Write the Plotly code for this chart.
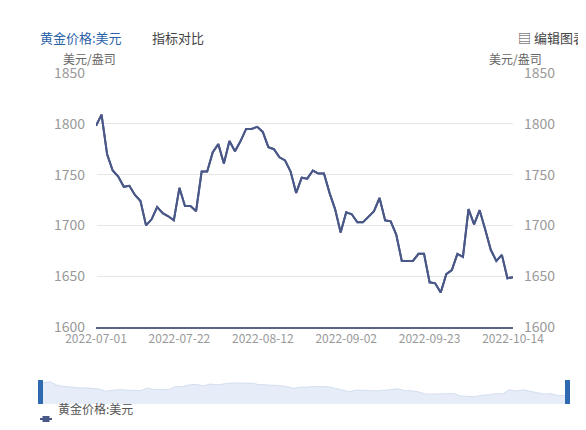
import datetime as dt

import plotly.graph_objects as go

# gold price, USD per ounce, business days from 2022-07-01
prices = [1798, 1809, 1770, 1754, 1748, 1738, 1739, 1730, 1724, 1700,
          1706, 1718, 1712, 1709, 1705, 1737, 1719, 1719, 1714, 1753,
          1753, 1772, 1780, 1761, 1783, 1773, 1783, 1795, 1795, 1797,
          1792, 1777, 1775, 1767, 1764, 1753, 1732, 1747, 1746, 1754,
          1751, 1751, 1732, 1716, 1693, 1713, 1711, 1703, 1703, 1709,
          1714, 1727, 1705, 1704, 1691, 1665, 1665, 1665, 1672, 1672,
          1644, 1643, 1634, 1652, 1656, 1672, 1669, 1716, 1701, 1715,
          1696, 1676, 1665, 1671, 1648, 1649]

dates = []
d = dt.date(2022, 7, 1)
while len(dates) < len(prices):
    if d.weekday() < 5:
        dates.append(d.isoformat())
    d += dt.timedelta(days=1)

tick_idx = [0, 15, 30, 45, 60, 75]
tick_text = [dates[i] for i in tick_idx]
y_ticks = [1600, 1650, 1700, 1750, 1800, 1850]

line_col = '#4a5888'
grey = '#999999'
font = 'Noto Sans CJK SC'

fig = go.Figure()
fig.add_trace(go.Scatter(x=list(range(len(prices))), y=prices, mode='lines',
                         line=dict(color=line_col, width=2),
                         name='黄金价格:美元', showlegend=False))
# right axis twin
fig.add_trace(go.Scatter(x=list(range(len(prices))), y=prices, mode='lines',
                         line=dict(color=line_col, width=2), yaxis='y3',
                         showlegend=False, hoverinfo='skip'))
# slider preview
fig.add_trace(go.Scatter(x=list(range(len(prices))), y=prices, mode='lines',
                         xaxis='x2', yaxis='y2', fill='tozeroy',
                         line=dict(color='#d3def0', width=1),
                         fillcolor='#e6edf8', showlegend=False))

fig.update_layout(
    width=586, height=430, margin=dict(l=0, r=0, t=0, b=0, autoexpand=False),
    plot_bgcolor='white', paper_bgcolor='white',
    font=dict(family=font, size=13, color=grey),
    xaxis=dict(domain=[88 / 586, 505 / 586], range=[0, 75],
               tickvals=tick_idx, ticktext=tick_text, showgrid=False,
               showline=True, linecolor='#5a6485', linewidth=2,
               ticks='', automargin=False,
               tickfont=dict(size=12, color=grey)),
    yaxis=dict(domain=[(430 - 319) / 430, (430 - 65) / 430],
               range=[1600, 1850], tickvals=y_ticks, gridcolor='#e6e6e6',
               zeroline=False, ticklabelstandoff=10, automargin=False,
               tickfont=dict(size=14, color=grey)),
    yaxis3=dict(overlaying='y', side='right', range=[1600, 1850],
                tickvals=y_ticks, showgrid=False, zeroline=False,
                ticklabelstandoff=10, automargin=False,
                tickfont=dict(size=14, color=grey)),
    xaxis2=dict(domain=[35 / 586, 557 / 586], range=[0, 75],
                anchor='y2', visible=False),
    yaxis2=dict(domain=[(430 - 396) / 430, (430 - 372) / 430],
                range=[1550, 1830], anchor='x2', visible=False),
    shapes=[
        dict(type='rect', xref='paper', yref='paper',
             x0=30 / 586, x1=35 / 586, y0=34 / 430, y1=58 / 430,
             fillcolor='#2f6ab0', line=dict(width=0)),
        dict(type='rect', xref='paper', yref='paper',
             x0=557 / 586, x1=562 / 586, y0=34 / 430, y1=58 / 430,
             fillcolor='#2f6ab0', line=dict(width=0)),
        dict(type='line', xref='paper', yref='paper',
             x0=32 / 586, x1=44 / 586, y0=19 / 430, y1=19 / 430,
             line=dict(color=line_col, width=2)),
        dict(type='rect', xref='paper', yref='paper',
             x0=34.5 / 586, x1=41.5 / 586, y0=16 / 430, y1=22 / 430,
             fillcolor=line_col, line=dict(width=0)),
    ],
    annotations=[
        dict(text='黄金价格:美元', x=30 / 586, y=(430 - 18) / 430, xref='paper',
             yref='paper', showarrow=False, xanchor='left',
             font=dict(size=13, color='#2a62a8')),
        dict(text='指标对比', x=142 / 586, y=(430 - 18) / 430, xref='paper',
             yref='paper', showarrow=False, xanchor='left',
             font=dict(size=13, color='#444444')),
        dict(text='▤ 编辑图表', x=580 / 586, y=(430 - 18) / 430, xref='paper',
             yref='paper', showarrow=False, xanchor='right',
             font=dict(size=13, color='#444444')),
        dict(text='美元/盎司', x=53 / 586, y=(430 - 40) / 430, xref='paper',
             yref='paper', showarrow=False, xanchor='left',
             font=dict(size=12, color='#666666')),
        dict(text='美元/盎司', x=536 / 586, y=(430 - 40) / 430, xref='paper',
             yref='paper', showarrow=False, xanchor='right',
             font=dict(size=12, color='#666666')),
        dict(text='黄金价格:美元', x=48 / 586, y=19 / 430, xref='paper',
             yref='paper', showarrow=False, xanchor='left',
             font=dict(size=12, color='#555555')),
    ],
)

fig.write_html("out.html")
